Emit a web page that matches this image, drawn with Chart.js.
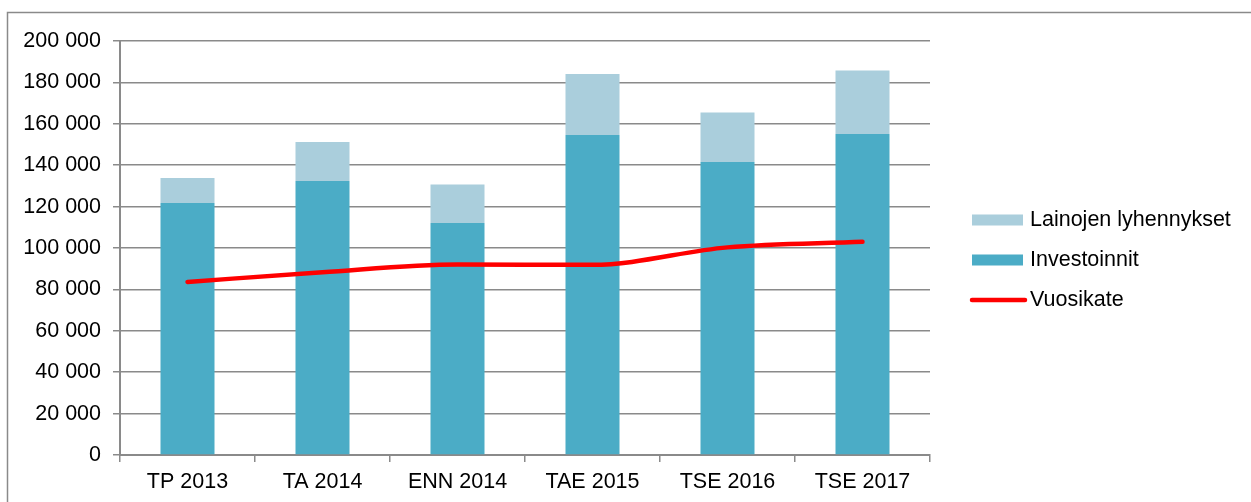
<!DOCTYPE html>
<html>
<head>
<meta charset="utf-8">
<script src="https://cdn.jsdelivr.net/npm/chart.js@4/dist/chart.umd.min.js"></script>
<style>
  html, body { margin: 0; padding: 0; background: #fff; }
  #wrap { width: 1251px; height: 502px; position: relative; }
</style>
</head>
<body>
<div id="wrap"><canvas id="c"></canvas></div>
<script>
const categories = ['TP 2013', 'TA 2014', 'ENN 2014', 'TAE 2015', 'TSE 2016', 'TSE 2017'];
const investoinnit = [121700, 132400, 112100, 154600, 141500, 155100];
const lainojenLyhennykset = [12100, 18800, 18600, 29500, 23900, 30700];
const vuosikate = [83600, 88300, 92000, 91900, 100300, 103000];
const yTicks = { min: 0, max: 200000, step: 20000 };

const FONT = 'Liberation Sans, Arial, sans-serif';
const FONT_SIZE = 21.5;
const GRID = '#8a8a8a';

function fmt(v) {
  return String(v).replace(/\B(?=(\d{3})+(?!\d))/g, ' ');
}

const framePlugin = {
  id: 'frame',
  beforeDraw(chart) {
    const ctx = chart.ctx;
    ctx.save();
    ctx.fillStyle = '#ffffff';
    ctx.fillRect(0, 0, chart.width, chart.height);
    ctx.strokeStyle = GRID;
    ctx.lineWidth = 1.5;
    ctx.strokeRect(7.5, 12.5, chart.width + 20, chart.height + 20);
    ctx.restore();
  }
};

const legendPlugin = {
  id: 'customLegend',
  afterDraw(chart) {
    const ctx = chart.ctx;
    const ds = chart.data.datasets;
    const order = [1, 0, 2];
    const x0 = chart.chartArea.right + 42;
    const y0 = chart.chartArea.top + 179;
    ctx.save();
    ctx.font = FONT_SIZE + 'px ' + FONT;
    ctx.textBaseline = 'middle';
    ctx.fillStyle = '#000';
    order.forEach((idx, i) => {
      const d = ds[idx];
      const y = y0 + i * 40;
      if (d.type === 'line') {
        ctx.strokeStyle = d.borderColor;
        ctx.lineWidth = 4.5;
        ctx.lineCap = 'round';
        ctx.beginPath();
        ctx.moveTo(x0, y);
        ctx.lineTo(x0 + 53, y);
        ctx.stroke();
      } else {
        ctx.fillStyle = d.backgroundColor;
        ctx.fillRect(x0, y - 5.5, 51, 11);
      }
      ctx.fillStyle = '#000';
      ctx.fillText(d.label, x0 + 58, y);
    });
    ctx.restore();
  }
};

new Chart(document.getElementById('c'), {
  type: 'bar',
  data: {
    labels: categories,
    datasets: [
      {
        label: 'Investoinnit',
        data: investoinnit,
        backgroundColor: '#4BACC6',
        stack: 'bars',
        borderWidth: 0,
        order: 2
      },
      {
        label: 'Lainojen lyhennykset',
        data: lainojenLyhennykset,
        backgroundColor: '#AACEDC',
        stack: 'bars',
        borderWidth: 0,
        order: 2
      },
      {
        type: 'line',
        label: 'Vuosikate',
        data: vuosikate,
        borderColor: '#FF0000',
        backgroundColor: '#FF0000',
        borderWidth: 4.5,
        borderCapStyle: 'round',
        borderJoinStyle: 'round',
        pointRadius: 0,
        cubicInterpolationMode: 'monotone',
        stack: 'line',
        fill: false,
        order: 1
      }
    ]
  },
  options: {
    responsive: true,
    maintainAspectRatio: false,
    animation: false,
    devicePixelRatio: 1,
    layout: { padding: { top: 41, right: 321, left: 0, bottom: 0 } },
    plugins: {
      legend: { display: false },
      tooltip: { enabled: false }
    },
    datasets: {
      bar: { barPercentage: 1, categoryPercentage: 0.4 }
    },
    scales: {
      x: {
        stacked: true,
        grid: {
          display: true,
          offset: true,
          drawOnChartArea: false,
          drawTicks: true,
          tickLength: 7,
          color: GRID,
          lineWidth: 1.5
        },
        border: { display: true, color: GRID, width: 2 },
        ticks: {
          color: '#000',
          font: { family: FONT, size: FONT_SIZE },
          padding: 7,
          maxRotation: 0
        },
        afterFit(scale) { scale.height = 47; }
      },
      y: {
        stacked: true,
        min: yTicks.min,
        max: yTicks.max,
        grid: {
          color: GRID,
          lineWidth: 1.5,
          tickLength: 7,
          drawTicks: true
        },
        border: { display: true, color: GRID, width: 2 },
        ticks: {
          stepSize: yTicks.step,
          color: '#000',
          font: { family: FONT, size: FONT_SIZE },
          padding: 12,
          callback: (v) => fmt(v)
        },
        afterFit(scale) { scale.width = 120; }
      }
    }
  },
  plugins: [framePlugin, legendPlugin]
});
</script>
</body>
</html>
